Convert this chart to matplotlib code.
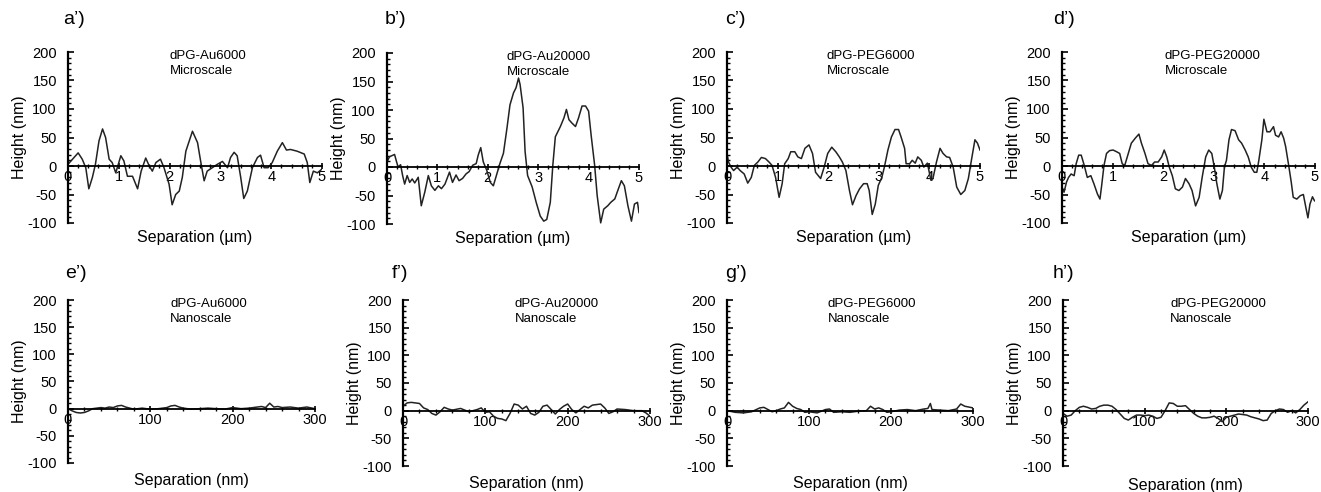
import matplotlib.pyplot as plt
from matplotlib.ticker import MultipleLocator

plt.rcParams['font.family'] = ['Liberation Sans', 'DejaVu Sans']
plt.rcParams['axes.unicode_minus'] = False

# ---- data (x in um for top row, nm for bottom row; height in nm) ----
a_x = [0.00, 0.09, 0.20, 0.28, 0.35, 0.41, 0.48, 0.54, 0.61, 0.68, 0.74, 0.81, 0.87, 0.94, 1.04, 1.10,
       1.17, 1.27, 1.37, 1.44, 1.53, 1.60, 1.66, 1.73, 1.82, 1.89, 1.99, 2.05, 2.12, 2.19, 2.25, 2.32,
       2.45, 2.55, 2.61, 2.68, 2.74, 2.84, 2.94, 3.04, 3.14, 3.20, 3.27, 3.33, 3.40, 3.46, 3.53, 3.63,
       3.73, 3.79, 3.86, 3.94, 4.02, 4.12, 4.22, 4.30, 4.38, 4.51, 4.65, 4.71, 4.76, 4.83, 4.91, 4.99]
a_y = [3, 12, 23, 12, -3, -40, -20, 3, 44, 65, 50, 12, 6, -12, 18, 9,
       -18, -18, -40, -9, 14, 0, -9, 6, 12, -3, -32, -68, -50, -44, -20, 26,
       61, 41, 9, -26, -9, -3, 3, 8, -3, 15, 24, 18, -20, -57, -44, -3,
       15, 19, -3, -3, 6, 26, 41, 28, 29, 26, 21, 6, -29, -9, -12, -6]

b_x = [0.00, 0.05, 0.15, 0.19, 0.22, 0.27, 0.31, 0.35, 0.40, 0.45, 0.50, 0.55, 0.62, 0.68, 0.75, 0.82,
       0.88, 0.95, 1.02, 1.08, 1.15, 1.24, 1.30, 1.37, 1.43, 1.50, 1.57, 1.63, 1.70, 1.77, 1.81, 1.86,
       1.91, 1.98, 2.05, 2.11, 2.18, 2.24, 2.31, 2.38, 2.44, 2.51, 2.56, 2.61, 2.64, 2.70, 2.74, 2.79,
       2.88, 2.96, 3.04, 3.11, 3.17, 3.24, 3.29, 3.34, 3.39, 3.44, 3.51, 3.56, 3.61, 3.67, 3.74, 3.80,
       3.87, 3.94, 4.00, 4.05, 4.12, 4.17, 4.24, 4.30, 4.38, 4.44, 4.52, 4.58, 4.65, 4.71, 4.78, 4.85,
       4.91, 4.97, 5.00]
b_y = [9, 18, 22, 9, 0, 4, -15, -30, -15, -27, -21, -28, -18, -68, -44, -15,
       -33, -41, -33, -38, -30, -9, -27, -14, -24, -20, -12, -8, 3, 6, 21, 34,
       9, -6, -27, -33, -12, 6, 24, 68, 109, 130, 139, 156, 145, 104, 27, -15,
       -35, -62, -86, -95, -92, -62, 3, 53, 62, 71, 86, 101, 83, 77, 71, 86,
       107, 107, 98, 56, 3, -50, -98, -74, -68, -62, -56, -41, -24, -33, -68, -95,
       -65, -62, -80]

c_x = [0.00, 0.03, 0.08, 0.13, 0.20, 0.26, 0.34, 0.41, 0.48, 0.54, 0.61, 0.68, 0.76, 0.83, 0.89, 0.96,
       1.03, 1.09, 1.14, 1.21, 1.26, 1.34, 1.40, 1.47, 1.54, 1.62, 1.69, 1.75, 1.85, 1.92, 1.99, 2.07,
       2.15, 2.22, 2.28, 2.35, 2.42, 2.48, 2.55, 2.62, 2.70, 2.77, 2.81, 2.87, 2.93, 2.99, 3.06, 3.11,
       3.18, 3.25, 3.32, 3.39, 3.44, 3.51, 3.54, 3.61, 3.66, 3.72, 3.77, 3.84, 3.89, 3.96, 4.03, 4.07,
       4.14, 4.21, 4.27, 4.34, 4.40, 4.47, 4.54, 4.62, 4.70, 4.77, 4.83, 4.90, 4.95, 5.00]
c_y = [22, 7, -2, -8, -2, -8, -14, -30, -20, 1, 7, 15, 13, 7, 1, -20,
       -55, -31, 4, 13, 25, 25, 16, 13, 31, 37, 22, -11, -22, -2, 22, 33,
       25, 16, 7, -8, -43, -68, -52, -40, -31, -31, -43, -85, -67, -34, -20, -2,
       28, 51, 64, 64, 51, 31, 4, 4, 10, 5, 16, 10, -2, 5, -25, -22,
       7, 31, 22, 16, 15, -2, -37, -50, -43, -22, 10, 46, 40, 28]

d_x = [0.00, 0.04, 0.09, 0.13, 0.18, 0.24, 0.28, 0.33, 0.38, 0.44, 0.50, 0.57, 0.63, 0.70, 0.75, 0.78,
       0.83, 0.88, 0.94, 1.01, 1.08, 1.14, 1.19, 1.24, 1.31, 1.37, 1.45, 1.52, 1.57, 1.64, 1.70, 1.77,
       1.83, 1.90, 1.97, 2.02, 2.07, 2.12, 2.18, 2.24, 2.31, 2.38, 2.44, 2.51, 2.57, 2.64, 2.71, 2.77,
       2.84, 2.90, 2.96, 3.01, 3.06, 3.12, 3.17, 3.21, 3.25, 3.30, 3.35, 3.42, 3.49, 3.55, 3.62, 3.68,
       3.74, 3.80, 3.85, 3.89, 3.95, 3.99, 4.05, 4.11, 4.18, 4.22, 4.28, 4.33, 4.38, 4.42, 4.48, 4.53,
       4.57, 4.64, 4.71, 4.77, 4.82, 4.86, 4.90, 4.95, 4.99]
d_y = [-37, -46, -28, -20, -14, -17, 4, 19, 19, 1, -20, -17, -31, -49, -58, -37,
       1, 22, 27, 28, 25, 22, 4, 1, 22, 40, 49, 56, 40, 22, 4, 1,
       7, 7, 16, 28, 16, -2, -17, -40, -43, -37, -22, -31, -43, -70, -55, -20,
       16, 28, 22, -2, -31, -58, -43, -2, 10, 46, 64, 62, 46, 40, 28, 16,
       -2, -11, -11, 10, 46, 82, 60, 60, 69, 54, 51, 60, 49, 34, 1, -28,
       -55, -58, -52, -50, -73, -91, -67, -54, -61]

e_x = [0, 5, 10, 15, 20, 25, 30, 40, 45, 50, 55, 60, 65, 70, 75, 80, 90, 100, 110, 120, 125, 130,
       135, 140, 150, 160, 170, 180, 190, 200, 210, 220, 230, 235, 240, 245, 250, 255, 260, 270,
       280, 290, 300]
e_y = [0, -4, -7, -8, -7, -4, 0, 2, 1, 3, 2, 5, 6, 3, 1, -1, 1, -1, 0, 2, 5, 6,
       3, 1, -1, 0, 1, 0, -1, 2, 0, 1, 3, 4, 2, 10, 3, 4, 2, 3,
       1, 3, 0]

f_x = [0, 5, 10, 20, 25, 30, 35, 40, 45, 50, 55, 60, 70, 80, 90, 95, 100, 105, 110, 115, 120, 125,
       130, 135, 140, 145, 150, 155, 160, 165, 170, 175, 180, 185, 190, 195, 200, 205, 210, 215,
       220, 225, 230, 240, 245, 250, 255, 260, 270, 280, 290, 295, 300]
f_y = [8, 14, 15, 13, 5, 2, -5, -8, -2, 6, 3, 1, 4, -2, 2, 5, -3, -2, -10, -14, -15, -18,
       -5, 12, 10, 3, 8, -5, -8, -3, 8, 10, 2, -6, 2, 8, 12, 2, -4, 2,
       8, 5, 10, 12, 5, -5, -2, 3, 2, 0, 0, -4, -10]

g_x = [0, 10, 20, 30, 40, 45, 50, 55, 60, 65, 70, 75, 80, 85, 90, 95, 100, 110, 120, 125, 130, 140,
       150, 160, 170, 175, 180, 185, 190, 195, 200, 210, 220, 230, 240, 245, 248, 250, 260, 270,
       280, 285, 290, 300]
g_y = [0, -3, -4, -2, 5, 6, 2, -2, 0, 3, 5, 15, 8, 4, 2, -3, -2, -4, 2, 3, -3, -2,
       -3, -1, 0, 8, 3, 5, 2, -3, -2, 1, 2, 0, 3, 4, 13, 2, 1, 0,
       3, 12, 8, 5]

h_x = [0, 5, 10, 15, 20, 25, 30, 35, 40, 45, 50, 55, 60, 65, 70, 75, 80, 85, 90, 95, 100, 105,
       110, 115, 120, 125, 130, 135, 140, 145, 150, 155, 160, 165, 170, 175, 180, 185, 190, 195,
       200, 205, 210, 215, 220, 225, 230, 235, 240, 245, 250, 255, 260, 265, 270, 275, 280, 285,
       290, 295, 300]
h_y = [-5, -10, -8, 0, 6, 8, 6, 3, 4, 8, 10, 10, 8, 2, -6, -14, -17, -12, -8, -8, -9, -8,
       -10, -14, -12, 0, 14, 13, 8, 8, 9, 2, -5, -10, -13, -13, -12, -10, -14, -20,
       -12, -10, -8, -6, -7, -8, -11, -13, -15, -18, -17, -5, 0, 3, 2, -3, 0, -4,
       2, 10, 16]

panel_labels = ["a’)", "b’)", "c’)", "d’)", "e’)", "f’)", "g’)", "h’)"]
samples = ["dPG-Au6000", "dPG-Au20000", "dPG-PEG6000", "dPG-PEG20000"] * 2
scales = ["Microscale"] * 4 + ["Nanoscale"] * 4
xs = [a_x, b_x, c_x, d_x, e_x, f_x, g_x, h_x]
ys = [a_y, b_y, c_y, d_y, e_y, f_y, g_y, h_y]

# axes boxes in pixels: left, right, top, bottom
W, H = 1321, 492
boxes = [(68, 322, 52, 223), (387, 639, 53, 224), (727, 980, 52, 223), (1062, 1315, 52, 223),
         (68, 315, 300, 463), (403, 650, 300, 466), (727, 973, 300, 466), (1063, 1308, 300, 466)]
label_x = [63, 385, 725, 1053, 65, 392, 725, 1053]
label_y = [20, 20, 20, 20, 273, 273, 273, 273]
xlab_y = [-0.04, -0.04, -0.04, -0.04, -0.06, -0.06, -0.06, -0.075]
text_x = [0.40, 0.476, 0.395, 0.407, 0.413, 0.453, 0.41, 0.437]

fig = plt.figure(figsize=(W / 100, H / 100), dpi=100)

for i in range(8):
    l, r, t, b = boxes[i]
    ax = fig.add_axes([l / W, 1 - b / H, (r - l) / W, (b - t) / H])
    ax.plot(xs[i], ys[i], color='#222222', lw=1.1)
    ax.set_ylim(-100, 200)
    micro = i < 4
    ax.set_xlim(0, 5 if micro else 300)

    ax.spines['top'].set_visible(False)
    ax.spines['right'].set_visible(False)
    ax.spines['bottom'].set_position(('data', 0))
    ax.spines['left'].set_linewidth(1.6)
    ax.spines['bottom'].set_linewidth(1.3)

    ax.yaxis.set_major_locator(MultipleLocator(50))
    ax.yaxis.set_minor_locator(MultipleLocator(10))
    if micro:
        ax.xaxis.set_major_locator(MultipleLocator(1))
        ax.xaxis.set_minor_locator(MultipleLocator(0.2))
    else:
        ax.xaxis.set_major_locator(MultipleLocator(100))
        ax.xaxis.set_minor_locator(MultipleLocator(20))

    ax.tick_params(axis='y', which='major', direction='in', length=4, width=1.2, labelsize=10.5, pad=8)
    ax.tick_params(axis='y', which='minor', direction='in', length=2.5, width=1)
    ax.tick_params(axis='x', which='major', direction='inout', length=4, width=1.2, labelsize=10.5, pad=1)
    ax.tick_params(axis='x', which='minor', direction='inout', length=3, width=1)

    ax.set_xlabel("Separation (µm)" if micro else "Separation (nm)", fontsize=11.5)
    ax.xaxis.set_label_coords(0.5, xlab_y[i])
    ax.set_ylabel("Height (nm)", fontsize=11.5)
    ax.yaxis.set_label_coords(-41 / (r - l), 0.5)

    ax.text(text_x[i], 1.01, samples[i] + "\n" + scales[i], transform=ax.transAxes,
            fontsize=9.5, va='top', ha='left', linespacing=1.25)
    fig.text(label_x[i] / W, 1 - label_y[i] / H, panel_labels[i], fontsize=14, ha='left', va='center')

fig.savefig("out.png", dpi=100)
